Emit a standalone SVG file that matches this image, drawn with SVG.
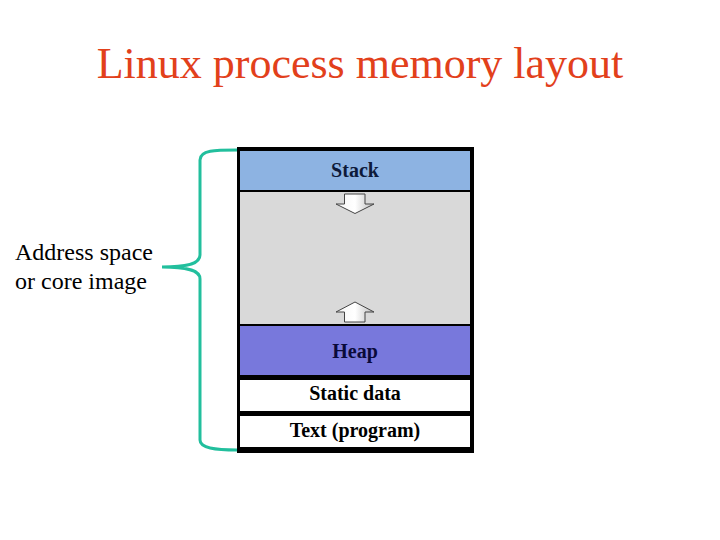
<svg xmlns="http://www.w3.org/2000/svg" width="720" height="540" viewBox="0 0 720 540">
<defs>
<linearGradient id="ag" x1="0" y1="0" x2="1" y2="0">
<stop offset="0" stop-color="#f4f4f4"/>
<stop offset="0.5" stop-color="#ffffff"/>
<stop offset="1" stop-color="#bdbdbd"/>
</linearGradient>
</defs>
<rect width="720" height="540" fill="#fff"/>
<text x="360" y="78" font-family="Liberation Serif" font-size="44" fill="#E2401B" text-anchor="middle">Linux process memory layout</text>

<g id="memory" font-family="Liberation Serif" font-weight="bold" font-size="20" text-anchor="middle">
<rect x="237" y="147" width="237" height="306" fill="#000"/>
<g id="stack">
<rect x="240" y="151" width="230" height="39" fill="#8DB3E2"/>
<text x="355" y="177" fill="#0d1a3a">Stack</text>
</g>
<g id="free">
<rect x="240" y="192" width="230" height="132" fill="#D9D9D9"/>
</g>
<g id="heap">
<rect x="240" y="326" width="230" height="49" fill="#7878DC"/>
<text x="355" y="358" fill="#0a0a3a">Heap</text>
</g>
<g id="static">
<rect x="240" y="380" width="230" height="31" fill="#fff"/>
<text x="355" y="400" fill="#000">Static data</text>
</g>
<g id="text">
<rect x="240" y="416" width="230" height="31" fill="#fff"/>
<text x="355" y="437" fill="#000">Text (program)</text>
</g>
</g>

<g id="connectors">
<path d="M344.5 194 H365 V204 H374 L355 213.5 L336 204 H344.5 Z" fill="url(#ag)" stroke="#444" stroke-width="1"/>
<path d="M344.5 322 H365 V312 H374 L355 302 L336 312 H344.5 Z" fill="url(#ag)" stroke="#444" stroke-width="1"/>
<path d="M237 150 C215 150 200 150 200 160 V255 C200 263 190 267 162 267 C190 267 200 271 200 279 V440 C200 448 215 450 237 450" fill="none" stroke="#22BF9D" stroke-width="3"/>
</g>

<g id="label" font-family="Liberation Serif" font-size="24" fill="#000">
<text x="15" y="260">Address space</text>
<text x="15" y="289">or core image</text>
</g>
</svg>
